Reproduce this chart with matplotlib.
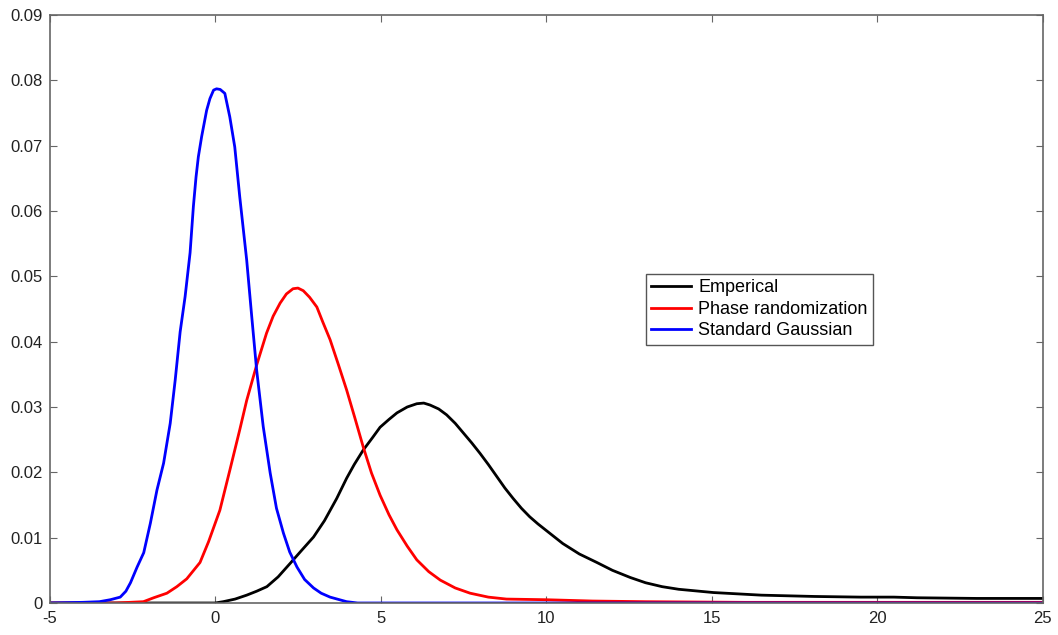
import matplotlib
matplotlib.use("Agg")
import matplotlib.pyplot as plt
from matplotlib.ticker import FuncFormatter

plt.rcParams["font.family"] = ["Liberation Sans", "DejaVu Sans"]
plt.rcParams["axes.unicode_minus"] = False

# Values
gauss_x = [-5.0, -4.0, -3.5, -3.17, -2.87, -2.7, -2.56, -2.36, -2.16, -1.96, -1.76,
           -1.56, -1.36, -1.21, -1.06, -0.91, -0.76, -0.66, -0.58, -0.51, -0.41,
           -0.26, -0.16, -0.05, 0.04, 0.15, 0.29, 0.44, 0.59, 0.74, 0.95, 1.1, 1.25,
           1.45, 1.66, 1.85, 2.06, 2.25, 2.47, 2.7, 2.97, 3.2, 3.47, 3.97, 4.3, 25.0]
gauss_y = [0.0, 0.0001, 0.0002, 0.0005, 0.0009, 0.0018, 0.0031, 0.0055, 0.0077,
           0.0122, 0.0173, 0.0214, 0.0275, 0.0341, 0.0415, 0.0469, 0.0536, 0.0607,
           0.0652, 0.0683, 0.0714, 0.0754, 0.0772, 0.0785, 0.0787, 0.0786, 0.078,
           0.0744, 0.0698, 0.0622, 0.0525, 0.044, 0.0357, 0.027, 0.0199, 0.0145,
           0.0107, 0.0078, 0.0055, 0.0036, 0.0023, 0.0015, 0.0009, 0.0002, 0.0, 0.0]

phase_x = [-5.0, -3.0, -2.17, -1.86, -1.46, -1.16, -0.86, -0.46, -0.2, 0.14, 0.44,
           0.74, 0.95, 1.25, 1.55, 1.75, 1.96, 2.15, 2.35, 2.5, 2.66, 2.85,
           3.07, 3.25, 3.47, 3.72, 3.97, 4.22, 4.47, 4.72, 4.98, 5.25, 5.49, 5.8,
           6.09, 6.45, 6.8, 7.25, 7.7, 8.25, 8.8, 10.0, 11.4, 13.0, 16.0, 25.0]
phase_y = [0.0, 0.0, 0.0002, 0.0008, 0.0015, 0.0025, 0.0037, 0.0062, 0.0094, 0.0142,
           0.0203, 0.0265, 0.031, 0.0364, 0.0413, 0.0439, 0.0459, 0.0473,
           0.0481, 0.0482, 0.0478, 0.0468, 0.0453, 0.043, 0.0403, 0.0365, 0.0326,
           0.0283, 0.0239, 0.0199, 0.0165, 0.0135, 0.0112, 0.0087, 0.0066, 0.0048,
           0.0035, 0.0023, 0.0015, 0.0009, 0.0006, 0.0005, 0.0003, 0.0002, 0.0001,
           0.0001]

emp_x = [-5.0, 0.0, 0.24, 0.6, 0.95, 1.25, 1.56, 1.9, 2.27, 2.6, 2.97, 3.3, 3.67,
         3.97, 4.2, 4.47, 4.75, 4.98, 5.25, 5.49, 5.8, 6.09, 6.3, 6.49, 6.75, 6.99,
         7.25, 7.5, 7.75, 8.0, 8.25, 8.5, 8.75, 9.0, 9.25, 9.5, 9.75, 10.0, 10.5,
         11.0, 11.53, 12.0, 12.54, 13.0, 13.5, 14.0, 15.05, 16.5, 18.1, 19.5, 20.5,
         21.2, 23.0, 25.0]
emp_y = [0.0, 0.0, 0.0002, 0.0006, 0.0012, 0.0018, 0.0025, 0.004, 0.0061, 0.008,
         0.0101, 0.0126, 0.016, 0.0191, 0.0212, 0.0234, 0.0253, 0.0269, 0.0281,
         0.0291, 0.03, 0.0305, 0.0306, 0.0303, 0.0297, 0.0288, 0.0275, 0.026,
         0.0245, 0.0229, 0.0212, 0.0194, 0.0176, 0.016, 0.0145, 0.0132, 0.0121,
         0.0111, 0.0091, 0.0075, 0.0062, 0.005, 0.0039, 0.0031, 0.0025, 0.0021,
         0.0016, 0.0012, 0.001, 0.0009, 0.0009, 0.0008, 0.0007, 0.0007]

x_ticks = [-5, 0, 5, 10, 15, 20, 25]
y_ticks = [0, 0.01, 0.02, 0.03, 0.04, 0.05, 0.06, 0.07, 0.08, 0.09]

fig = plt.figure(figsize=(10.58, 6.35), dpi=100)
ax = fig.add_axes([0.047, 0.0504, 0.9386, 0.926])

ax.plot(emp_x, emp_y, color="black", lw=2, label="Emperical", solid_joinstyle="round")
ax.plot(phase_x, phase_y, color="red", lw=2, label="Phase randomization", solid_joinstyle="round")
ax.plot(gauss_x, gauss_y, color="blue", lw=2, label="Standard Gaussian", solid_joinstyle="round")

ax.set_xlim(-5, 25)
ax.set_ylim(0, 0.09)
ax.set_xticks(x_ticks)
ax.set_yticks(y_ticks)
ax.yaxis.set_major_formatter(FuncFormatter(lambda v, p: "0" if v == 0 else f"{v:.2f}"))
ax.tick_params(direction="in", length=5, labelsize=12, top=True, right=True,
               color="#666666", labelcolor="#222222")
ax.tick_params(axis="x", pad=6)
ax.tick_params(axis="y", pad=5)
for s in ax.spines.values():
    s.set_color("#666666")
    s.set_linewidth(1.2)

leg = ax.legend(loc="upper left", bbox_to_anchor=(0.591, 0.575), fontsize=13,
                fancybox=False, framealpha=1, edgecolor="#555555",
                handlelength=2.2, borderpad=0.3, labelspacing=0.25, handletextpad=0.4)
leg.get_frame().set_linewidth(1)

fig.savefig("out.png", dpi=100)
